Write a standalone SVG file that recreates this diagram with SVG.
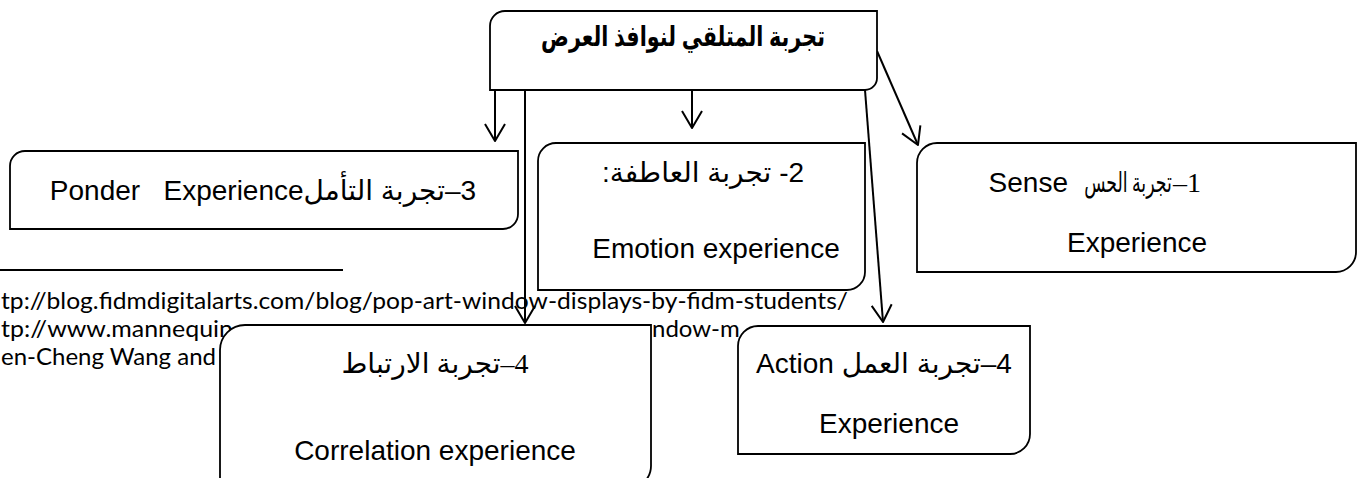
<svg xmlns="http://www.w3.org/2000/svg" width="1360" height="478" viewBox="0 0 1360 478">
<style>
.box{fill:#fff;stroke:#000;stroke-width:1.8}
.t{font-family:"Liberation Sans","DejaVu Sans",sans-serif;font-size:28px;fill:#000}
.s{font-family:"Liberation Serif","DejaVu Sans",serif;font-size:28px;fill:#000}
.fn{font-family:Lato,"Open Sans",sans-serif;font-size:24px;fill:#000}
.c{fill:none;stroke:#000;stroke-width:2}
</style>
<defs>
<marker id="arr" markerUnits="userSpaceOnUse" viewBox="-20 -12 22 24" refX="0" refY="0" markerWidth="22" markerHeight="24" orient="auto" overflow="visible">
<path d="M-17,-10 L0,0 L-17,10" fill="none" stroke="#000" stroke-width="2" stroke-linejoin="round"/>
</marker>
</defs>
<g id="footnotes">
<line x1="0" y1="270" x2="343" y2="270" stroke="#000" stroke-width="2"/>
<text class="fn" x="1" y="309" textLength="847" lengthAdjust="spacingAndGlyphs">tp://blog.fidmdigitalarts.com/blog/pop-art-window-displays-by-fidm-students/</text>
<text class="fn" x="1" y="337" textLength="232" lengthAdjust="spacingAndGlyphs">tp://www.mannequin</text>
<text class="fn" x="652" y="337">ndow-m</text>
<text class="fn" x="1" y="365">en-Cheng Wang and</text>
</g>
<g id="connectors">
<line class="c" x1="495" y1="90" x2="495" y2="141" marker-end="url(#arr)"/>
<line class="c" x1="525" y1="90" x2="525" y2="323" marker-end="url(#arr)"/>
<line class="c" x1="692" y1="90" x2="692" y2="128" marker-end="url(#arr)"/>
<line class="c" x1="865" y1="90" x2="883" y2="322" marker-end="url(#arr)"/>
<line class="c" x1="877" y1="51" x2="918" y2="145" marker-end="url(#arr)"/>
</g>
<g id="top">
<path class="box" d="M505,11 H877 V78 A12,12 0 0 1 865,90 H490 V26 A15,15 0 0 1 505,11 Z"/>
<text class="t" transform="translate(683,46) scale(0.74,1)" text-anchor="middle" direction="rtl" font-weight="bold" font-size="27">تجربة المتلقي لنوافذ العرض</text>
</g>
<g id="ponder">
<path class="box" d="M25,151 H518 V214 A15,15 0 0 1 503,229 H10 V166 A15,15 0 0 1 25,151 Z"/>
<text class="t" x="263" y="200" font-size="27" text-anchor="middle" direction="rtl" xml:space="preserve">3–تجربة التأملPonder   Experience</text>
</g>
<g id="emotion">
<path class="box" d="M556,143 H865 V272 A18,18 0 0 1 847,290 H538 V161 A18,18 0 0 1 556,143 Z"/>
<text class="t" x="703" y="182" text-anchor="middle" direction="rtl">2- تجربة العاطفة:</text>
<text class="t" x="716" y="258" font-size="27" text-anchor="middle">Emotion experience</text>
</g>
<g id="sense">
<path class="box" d="M937,143 H1356 V252 A20,20 0 0 1 1336,272 H917 V163 A20,20 0 0 1 937,143 Z"/>
<text class="t" x="1068" y="192" text-anchor="end">Sense</text>
<text class="s" transform="translate(1128,192) scale(0.62,1)" font-size="28" text-anchor="middle" direction="rtl">تجربة الحس</text>
<text class="s" x="1187" y="192" text-anchor="middle" direction="rtl">1–</text>
<text class="t" x="1137" y="252" text-anchor="middle">Experience</text>
</g>
<g id="correlation">
<path class="box" d="M245,325 H651 V466 A22,22 0 0 1 629,488 H220 V350 A25,25 0 0 1 245,325 Z"/>
<text class="s" x="435" y="373" text-anchor="middle" direction="rtl">4–تجربة الارتباط</text>
<text class="t" x="435" y="460" text-anchor="middle">Correlation experience</text>
</g>
<g id="action">
<path class="box" d="M758,326 H1030 V434 A20,20 0 0 1 1010,454 H738 V346 A20,20 0 0 1 758,326 Z"/>
<text class="t" x="884" y="373" text-anchor="middle" direction="rtl">4–تجربة العمل Action</text>
<text class="t" x="889" y="433" text-anchor="middle">Experience</text>
</g>
</svg>
